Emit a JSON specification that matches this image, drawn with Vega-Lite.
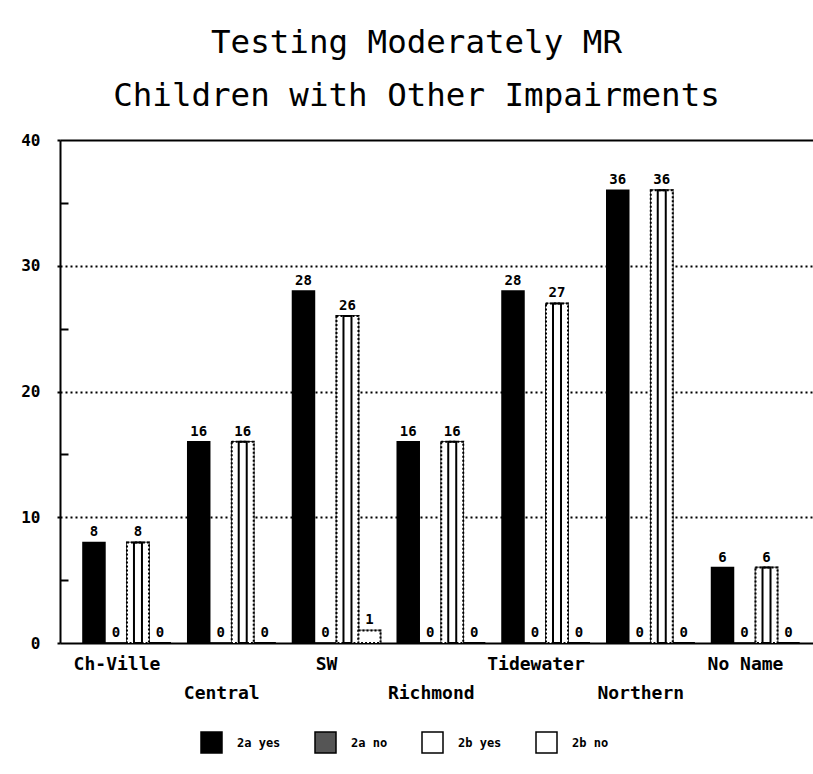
{
  "$schema": "https://vega.github.io/schema/vega-lite/v6.json",
  "width": 753,
  "height": 503,
  "autosize": "none",
  "padding": {"left": 60, "top": 140, "right": 0, "bottom": 131},
  "background": "white",
  "title": {
    "text": ["Testing Moderately MR", "Children with Other Impairments"],
    "font": "DejaVu Sans Mono",
    "fontSize": 32.5,
    "fontWeight": "normal",
    "lineHeight": 53,
    "offset": 20,
    "dx": -20,
    "color": "black"
  },
  "data": {
    "values": [
      {"region": "Ch-Ville", "series": "2a yes", "value": 8},
      {"region": "Ch-Ville", "series": "2a no", "value": 0},
      {"region": "Ch-Ville", "series": "2b yes", "value": 8},
      {"region": "Ch-Ville", "series": "2b no", "value": 0},
      {"region": "Central", "series": "2a yes", "value": 16},
      {"region": "Central", "series": "2a no", "value": 0},
      {"region": "Central", "series": "2b yes", "value": 16},
      {"region": "Central", "series": "2b no", "value": 0},
      {"region": "SW", "series": "2a yes", "value": 28},
      {"region": "SW", "series": "2a no", "value": 0},
      {"region": "SW", "series": "2b yes", "value": 26},
      {"region": "SW", "series": "2b no", "value": 1},
      {"region": "Richmond", "series": "2a yes", "value": 16},
      {"region": "Richmond", "series": "2a no", "value": 0},
      {"region": "Richmond", "series": "2b yes", "value": 16},
      {"region": "Richmond", "series": "2b no", "value": 0},
      {"region": "Tidewater", "series": "2a yes", "value": 28},
      {"region": "Tidewater", "series": "2a no", "value": 0},
      {"region": "Tidewater", "series": "2b yes", "value": 27},
      {"region": "Tidewater", "series": "2b no", "value": 0},
      {"region": "Northern", "series": "2a yes", "value": 36},
      {"region": "Northern", "series": "2a no", "value": 0},
      {"region": "Northern", "series": "2b yes", "value": 36},
      {"region": "Northern", "series": "2b no", "value": 0},
      {"region": "No Name", "series": "2a yes", "value": 6},
      {"region": "No Name", "series": "2a no", "value": 0},
      {"region": "No Name", "series": "2b yes", "value": 6},
      {"region": "No Name", "series": "2b no", "value": 0}
    ]
  },
  "encoding": {
    "x": {
      "field": "region",
      "type": "nominal",
      "sort": ["Ch-Ville", "Central", "SW", "Richmond", "Tidewater", "Northern", "No Name"],
      "scale": {"paddingInner": 0.16, "paddingOuter": 0.174, "align": 0.63},
      "axis": {
        "title": null,
        "labelAngle": 0,
        "ticks": false,
        "domainColor": "black",
        "domainWidth": 2,
        "labelFont": "DejaVu Sans Mono",
        "labelFontWeight": "bold",
        "labelFontSize": 18,
        "labelColor": "black",
        "labelPadding": 12,
        "labelLineHeight": 29,
        "labelOffset": -10,
        "labelOverlap": false,
        "labelExpr": "indexof(['Central','Richmond','Northern'], datum.value) >= 0 ? ['', datum.value] : datum.value"
      }
    },
    "xOffset": {
      "field": "series",
      "type": "nominal",
      "sort": ["2a yes", "2a no", "2b yes", "2b no"],
      "scale": {"paddingInner": 0}
    },
    "y": {
      "field": "value",
      "type": "quantitative",
      "scale": {"domain": [0, 40], "nice": false},
      "axis": {
        "title": null,
        "values": [0, 5, 10, 15, 20, 25, 30, 35, 40],
        "labelExpr": "datum.value % 10 === 0 ? datum.label : ''",
        "grid": true,
        "gridColor": "black",
        "gridWidth": 2,
        "gridDash": {"condition": {"test": "datum.value === 40", "value": []}, "value": [2, 3]},
        "gridOpacity": {"condition": {"test": "datum.value % 10 !== 0 || datum.value === 0", "value": 0}, "value": 1},
        "tickSize": {"condition": {"test": "datum.value % 10 !== 0", "value": -8}, "value": 3},
        "tickColor": "black",
        "tickWidth": 2,
        "domainColor": "black",
        "domainWidth": 2,
        "labelFont": "DejaVu Sans Mono",
        "labelFontWeight": "bold",
        "labelFontSize": 16,
        "labelColor": "black",
        "labelPadding": 17
      }
    }
  },
  "layer": [
    {
      "mark": {"type": "bar", "stroke": "black", "strokeWidth": 1.5},
      "encoding": {
        "color": {
          "field": "series",
          "type": "nominal",
          "sort": ["2a yes", "2a no", "2b yes", "2b no"],
          "scale": {"domain": ["2a yes", "2a no", "2b yes", "2b no"], "range": ["black", "#555555", "white", "white"]},
          "legend": {
            "orient": "none",
            "legendX": 140,
            "legendY": 591,
            "direction": "horizontal",
            "title": null,
            "symbolType": "square",
            "symbolSize": 441,
            "symbolStrokeColor": "black",
            "symbolStrokeWidth": 1.5,
            "symbolOpacity": 1,
            "labelFont": "DejaVu Sans Mono",
            "labelFontWeight": "bold",
            "labelFontSize": 12,
            "labelColor": "black",
            "labelOffset": 14,
            "columnPadding": 31
          }
        }
      }
    },
    {
      "transform": [{"filter": "datum.series === '2b yes' || datum.series === '2b no'"}],
      "mark": {"type": "bar", "fill": "white", "stroke": "black", "strokeWidth": 2, "strokeDash": [2, 2]},
      "encoding": {}
    },
    {
      "transform": [{"filter": "datum.series === '2b yes'"}],
      "mark": {"type": "bar", "width": 8, "fill": "transparent", "stroke": "black", "strokeWidth": 2},
      "encoding": {}
    },
    {
      "mark": {"type": "text", "baseline": "bottom", "dy": -3, "font": "DejaVu Sans Mono", "fontWeight": "bold", "fontSize": 14, "color": "black"},
      "encoding": {"text": {"field": "value", "type": "quantitative"}}
    }
  ],
  "config": {"view": {"stroke": null}}
}
